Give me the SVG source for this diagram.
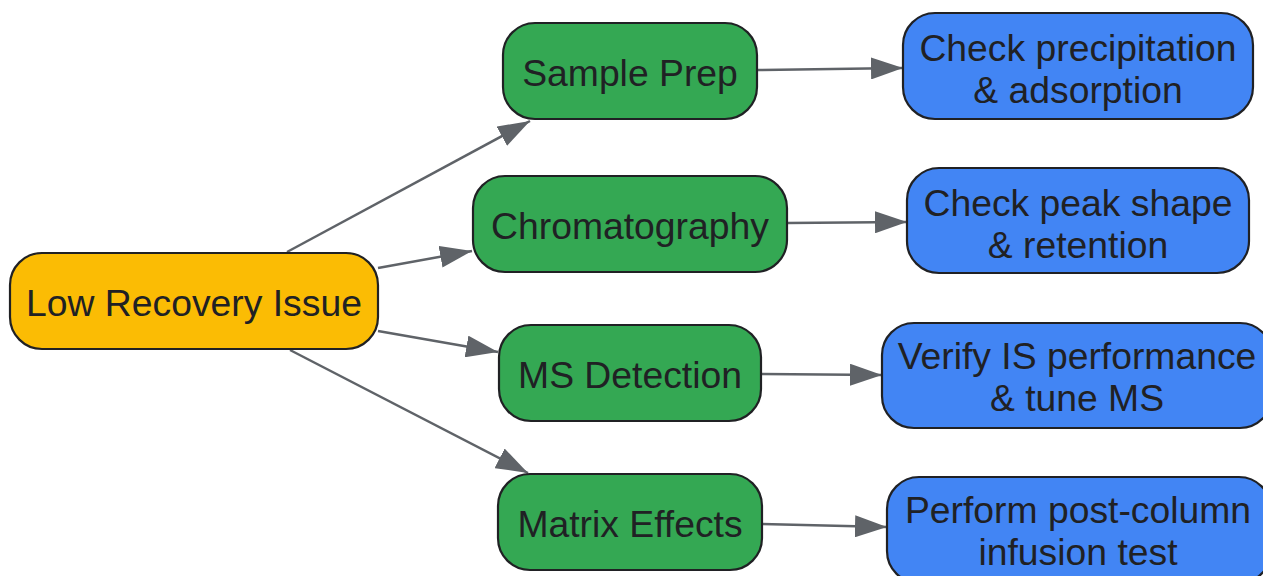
<svg xmlns="http://www.w3.org/2000/svg" width="1263" height="576" viewBox="0 0 1263 576">
<defs>
<marker id="arr" markerUnits="userSpaceOnUse" markerWidth="32" markerHeight="22" refX="32" refY="11" orient="auto">
<path d="M0,0 L32,11 L0,22 z" fill="#5f6368"/>
</marker>
<style>
.n rect{stroke:#202124;stroke-width:2.2}
.root rect{fill:#fbbc04}
.cat rect{fill:#34a853}
.act rect{fill:#4285f4}
text{font-family:"Liberation Sans",Arial,sans-serif;font-size:37.3px;fill:#202124;text-anchor:middle}
#edges line{stroke:#5f6368;stroke-width:2.5;marker-end:url(#arr)}
</style>
</defs>
<rect width="1263" height="576" fill="#ffffff"/>
<g id="edges">
<line x1="287" y1="252" x2="530" y2="121"/>
<line x1="378" y1="268" x2="472" y2="251"/>
<line x1="378" y1="331" x2="498" y2="352"/>
<line x1="290" y1="350" x2="528" y2="473"/>
<line x1="757" y1="70" x2="903" y2="68"/>
<line x1="787" y1="223" x2="907" y2="222"/>
<line x1="761" y1="374" x2="882" y2="375"/>
<line x1="762" y1="524" x2="887" y2="527"/>
</g>
<g id="low" class="n root">
<rect x="10" y="253" width="368" height="96" rx="32"/>
<text x="194" y="316">Low Recovery Issue</text>
</g>
<g id="sample" class="n cat">
<rect x="503" y="23" width="254" height="96" rx="32"/>
<text x="630" y="86">Sample Prep</text>
</g>
<g id="chrom" class="n cat">
<rect x="473" y="176" width="314" height="96" rx="32"/>
<text x="630" y="239">Chromatography</text>
</g>
<g id="ms" class="n cat">
<rect x="499" y="325" width="262" height="96" rx="32"/>
<text x="630" y="388">MS Detection</text>
</g>
<g id="matrix" class="n cat">
<rect x="498" y="474" width="264" height="96" rx="32"/>
<text x="630" y="537">Matrix Effects</text>
</g>
<g id="precip" class="n act">
<rect x="903" y="13" width="350" height="106" rx="32"/>
<text x="1078" y="61">Check precipitation</text>
<text x="1078" y="103">&amp; adsorption</text>
</g>
<g id="peak" class="n act">
<rect x="907" y="168" width="342" height="105" rx="32"/>
<text x="1078" y="216">Check peak shape</text>
<text x="1078" y="258">&amp; retention</text>
</g>
<g id="verify" class="n act">
<rect x="882" y="323" width="390" height="105" rx="32"/>
<text x="1077" y="369">Verify IS performance</text>
<text x="1077" y="411">&amp; tune MS</text>
</g>
<g id="perform" class="n act">
<rect x="887" y="477" width="384" height="106" rx="32"/>
<text x="1078" y="523">Perform post-column</text>
<text x="1078" y="565">infusion test</text>
</g>
</svg>
